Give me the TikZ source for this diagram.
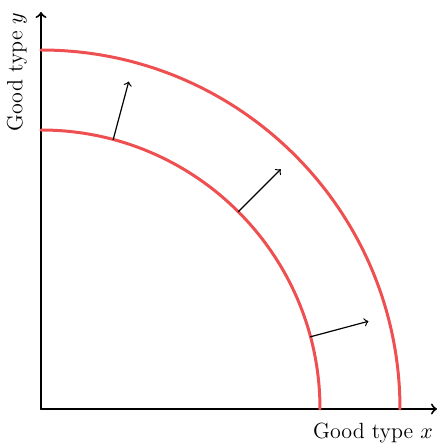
\documentclass[tikz,border=0pt]{standalone}
\usetikzlibrary{arrows}
\definecolor{frontier}{RGB}{238,80,82}

\begin{document}
\begin{tikzpicture}[line cap=round,line join=round,x=0.5pt,y=0.5pt,>=to,
	frontier/.style={color=frontier,line width=1.5pt},
	growth/.style={->,line width=0.6pt},
	axislabel/.style={font=\fontsize{11}{13}\selectfont,inner sep=0pt}]
		\useasboundingbox (-41,-37) rectangle (398,409);
		% Axes
		\coordinate (O) at (0,0);
		\coordinate (xend) at (396,0);
		\coordinate (yend) at (0,397);
		\draw[->,line width=1pt] (O)--(xend);
		\draw[->,line width=1pt] (O)--(yend);
		\node[axislabel] (xlab) at (332,-24) {Good type $x$};
		\node[axislabel,rotate=90] (ylab) at (-24,337) {Good type $y$};
		% Frontieres
		\draw[frontier] (0,279) arc (90:0:279);
		\draw[frontier] (0,359) arc (90:0:359);
		% Deplacements
		\foreach \a in {15,45,75}{
			\coordinate (p\a) at (\a:279);
			\coordinate (q\a) at (\a:339);
			\draw[growth] (p\a)--(q\a);
		}
\end{tikzpicture}
\end{document}
